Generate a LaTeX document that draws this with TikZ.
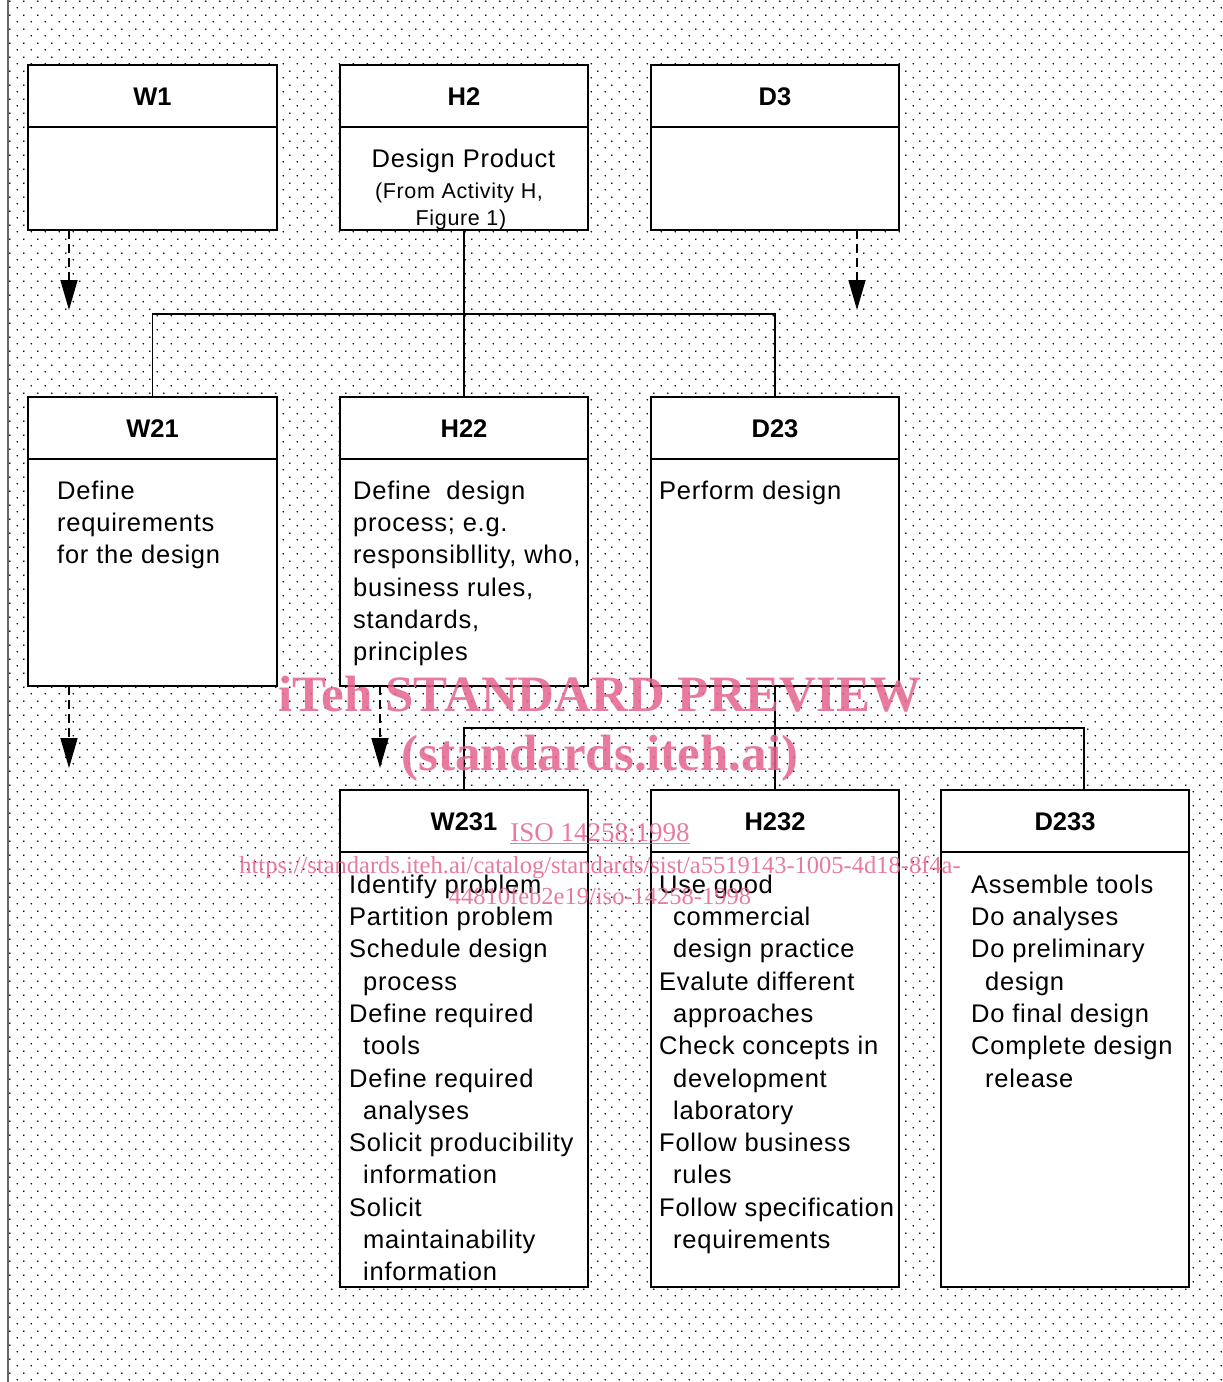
\documentclass[tikz,border=0pt]{standalone}
\usepackage{fontspec}
\setmainfont{Liberation Sans}
\newfontfamily\bodyfont[LetterSpace=3]{Liberation Sans}
\newfontfamily\wmfont{Liberation Serif}
\usetikzlibrary{patterns,arrows.meta}
\pgfdeclarepatternformonly{isodots}{\pgfpointorigin}{\pgfpoint{14pt}{14pt}}{\pgfpoint{14pt}{14pt}}{%
  \pgfpathcircle{\pgfpoint{3.5pt}{3.5pt}}{1pt}%
  \pgfpathcircle{\pgfpoint{10.5pt}{10.5pt}}{1pt}%
  \pgfusepath{fill}}
\definecolor{wmpink}{RGB}{228,100,140}
\tikzset{
  ibox/.style={draw=black, line width=2pt, fill=white, inner sep=0pt, outer sep=0pt},
  iboxline/.style={draw=black, line width=2pt},
  ititle/.style={font=\fontsize{25.5}{30}\selectfont\bfseries, inner sep=0pt},
  ibody/.style={font=\bodyfont\fontsize{25.5}{32.3}\selectfont, align=left, anchor=north west, inner sep=0pt},
  conn/.style={draw=black, line width=1.6pt},
  darr/.style={draw=black, line width=1.6pt, dash pattern=on 9pt off 5pt, -{Triangle[length=30pt,width=17pt]}},
  wm/.style={text=wmpink, text opacity=0.85, inner sep=0pt, anchor=base},
}
\newcommand{\idefbox}[6]{%
  \node[ibox, minimum width=#4pt, minimum height=#5pt, anchor=north west] (#1) at (#2,#3) {};
  \draw[iboxline] ([yshift=-62pt]#1.north west) -- ([yshift=-62pt]#1.north east);
  \node[ititle, anchor=base] (#1-title) at ([yshift=-40pt]#1.north) {#6};
}
\begin{document}
\begin{tikzpicture}[x=1pt,y=-1pt]
\useasboundingbox (0,0) rectangle (1223,1382);
\fill[white] (0,0) rectangle (1223,1382);
\fill[pattern=isodots, pattern color=black] (9,0) rectangle (1223,1382);
\draw[black!60, line width=1.3pt] (8,0) -- (8,1382);

% row 1
\idefbox{W1}{28}{65}{249}{165}{W1}
\idefbox{H2}{340}{65}{248}{165}{H2}
\idefbox{D3}{651}{65}{248}{165}{D3}
% row 2
\idefbox{W21}{28}{397}{249}{289}{W21}
\idefbox{H22}{340}{397}{248}{289}{H22}
\idefbox{D23}{651}{397}{248}{289}{D23}
% row 3
\idefbox{W231}{340}{790}{248}{497}{W231}
\idefbox{H232}{651}{790}{248}{497}{H232}
\idefbox{D233}{941}{790}{248}{497}{D233}

% H2 body
\node[font=\bodyfont\fontsize{25.5}{30}\selectfont, inner sep=0pt, anchor=base] (H2-l1) at (463.5,167) {Design Product};
\node[font=\bodyfont\fontsize{21.5}{26}\selectfont, inner sep=0pt, anchor=base] (H2-l2) at (459,198) {(From Activity H,};
\node[font=\bodyfont\fontsize{21.5}{26}\selectfont, inner sep=0pt, anchor=base] (H2-l3) at (461,225) {Figure 1)};

% bodies row 2
\node[ibody] (W21-body) at ([xshift=29pt, yshift=-79.4pt]W21.north west)
  {\strut Define\\requirements\\for the design};
\node[ibody] (H22-body) at ([xshift=13pt, yshift=-79.4pt]H22.north west)
  {\strut Define\ \ design\\process; e.g.\\responsibllity, who,\\business rules,\\standards,\\principles};
\node[ibody] (D23-body) at ([xshift=8pt, yshift=-79.4pt]D23.north west)
  {\strut Perform design};

% bodies row 3
\node[ibody] (W231-body) at ([xshift=9pt, yshift=-80.4pt]W231.north west)
  {\strut Identify problem\\Partition problem\\Schedule design\\\hspace*{14pt}process\\Define required\\\hspace*{14pt}tools\\Define required\\\hspace*{14pt}analyses\\Solicit producibility\\\hspace*{14pt}information\\Solicit\\\hspace*{14pt}maintainability\\\hspace*{14pt}information};
\node[ibody] (H232-body) at ([xshift=8pt, yshift=-80.4pt]H232.north west)
  {\strut Use good\\\hspace*{14pt}commercial\\\hspace*{14pt}design practice\\Evalute different\\\hspace*{14pt}approaches\\Check concepts in\\\hspace*{14pt}development\\\hspace*{14pt}laboratory\\Follow business\\\hspace*{14pt}rules\\Follow specification\\\hspace*{14pt}requirements};
\node[ibody] (D233-body) at ([xshift=30pt, yshift=-80.4pt]D233.north west)
  {\strut Assemble tools\\Do analyses\\Do preliminary\\\hspace*{14pt}design\\Do final design\\Complete design\\\hspace*{14pt}release};

% tree connectors
\coordinate (bus1) at (464,314);
\coordinate (bus2) at (775,728);
\draw[conn] (H2.south) -- (H22.north);
\draw[conn] (W21.north) -- (W21.north |- bus1) -- (D23.north |- bus1) -- (D23.north);
\coordinate (D233in) at ([xshift=19pt]D233.north);
\draw[conn] (D23.south) -- (H232.north);
\draw[conn] (W231.north) -- (W231.north |- bus2) -- (D233in |- bus2) -- (D233in);

% dashed arrows
\coordinate (aW1) at ([xshift=41pt, yshift=-80pt]W1.south west);
\coordinate (aD3) at ([xshift=-42pt, yshift=-80pt]D3.south east);
\coordinate (aW21) at ([xshift=41pt, yshift=-82pt]W21.south west);
\coordinate (aH22) at ([xshift=40pt, yshift=-82pt]H22.south west);
\draw[darr] ([xshift=41pt]W1.south west) -- (aW1);
\draw[darr] ([xshift=-42pt]D3.south east) -- (aD3);
\draw[darr] ([xshift=41pt]W21.south west) -- (aW21);
\draw[darr] ([xshift=40pt]H22.south west) -- (aH22);

% watermark
\node[wm, font=\wmfont\bfseries\fontsize{51}{56}\selectfont] (wm1) at (600,711) {iTeh STANDARD PREVIEW};
\node[wm, font=\wmfont\bfseries\fontsize{51}{56}\selectfont] (wm2) at (600,770) {(standards.iteh.ai)};
\node[wm, font=\wmfont\fontsize{27}{30}\selectfont] (wm3) at (600,841) {\underline{ISO 14258:1998}};
\node[wm, font=\wmfont\fontsize{24.5}{28}\selectfont] (wm4) at (600,873) {https://standards.iteh.ai/catalog/standards/sist/a5519143-1005-4d18-8f4a-};
\node[wm, font=\wmfont\fontsize{24.5}{28}\selectfont] (wm5) at (600,904) {44810feb2e19/iso-14258-1998};
\end{tikzpicture}
\end{document}
